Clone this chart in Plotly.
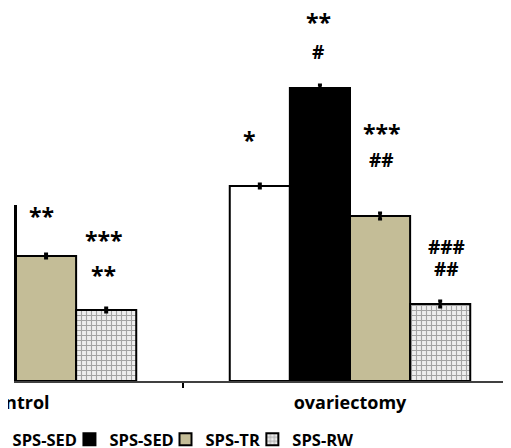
import plotly.graph_objects as go

groups = ["Control", "ovariectomy"]
group_pos = [0, 1]
series = ["SPS-SED", "SPS-SED", "SPS-TR", "SPS-RW"]
values = {
    "white": [0.75, 1.95],
    "black": [1.75, 2.93],
    "tan": [1.25, 1.65],
    "rw": [0.71, 0.77],
}
errors = {
    "white": [0.02, 0.02],
    "black": [0.02, 0.03],
    "tan": [0.02, 0.03],
    "rw": [0.02, 0.03],
}

ann_text = ["**", "***", "**", "*", "**", "#", "***", "##", "###", "##"]
ann_x = [0.075, 0.263, 0.263, 0.70, 0.905, 0.905, 1.095, 1.095, 1.29, 1.29]
ann_y = [1.65, 1.41, 1.06, 2.41, 3.59, 3.29, 2.48, 2.21, 1.34, 1.12]

W = 0.18
FONT = "Open Sans"
legend_x = [-0.082, 0.1098, 0.300, 0.472]

fig = go.Figure()
styles = [
    ("white", dict(color="white")),
    ("black", dict(color="black")),
    ("tan", dict(color="#C4BD97")),
    ("rw", dict(color="white", pattern=dict(shape="+", fgcolor="#5a5a5a", bgcolor="#eeeeee", size=5, solidity=0.4))),
]
legend_names = ["legend", "legend2", "legend3", "legend4"]
for i, (key, mk) in enumerate(styles):
    fig.add_trace(go.Bar(
        x=group_pos, y=values[key], name=series[i],
        width=W, offset=-2 * W + i * W,
        marker=dict(line=dict(color="black", width=2), **mk),
        error_y=dict(type="data", array=errors[key], visible=True, color="black", thickness=3, width=2),
        legend=legend_names[i],
    ))

for t, x, y in zip(ann_text, ann_x, ann_y):
    size = 23 if "*" in t else 19
    fig.add_annotation(x=x, y=y, text=t, showarrow=False, xref="x", yref="y",
                       font=dict(family=FONT, size=size, color="black", weight="bold"))

legend_style = dict(orientation="h", y=-0.11, xanchor="left", yanchor="top",
                    font=dict(family=FONT, size=16.5, color="black", weight="bold"),
                    itemwidth=30, bgcolor="rgba(0,0,0,0)")
fig.update_layout(
    width=511, height=448,
    margin=dict(l=6, r=0, t=0, b=75, autoexpand=False),
    plot_bgcolor="white", paper_bgcolor="white",
    barmode="overlay",
    showlegend=True,
    font=dict(family=FONT),
    **{name: dict(x=lx, **legend_style) for name, lx in zip(legend_names, legend_x)},
)
fig.update_xaxes(
    range=[-0.006, 1.506], tickvals=group_pos, ticktext=groups,
    showline=True, linecolor="#404040", linewidth=2, showgrid=False, zeroline=False,
    ticks="outside", ticklen=4, tickcolor="rgba(0,0,0,0)", ticklabeloverflow="allow",
    tickfont=dict(family=FONT, size=18, color="black", weight="bold"),
    minor=dict(tickvals=[0.5], ticks="outside", ticklen=5, tickwidth=2, tickcolor="black"),
)
fig.update_yaxes(range=[0, 3.73], visible=False)

fig.write_html("out.html")
